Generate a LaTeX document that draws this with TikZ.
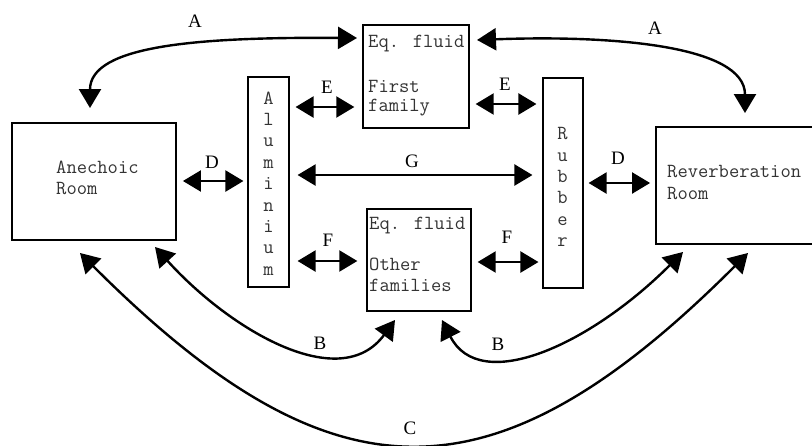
\documentclass[tikz,border=0pt]{standalone}
\usepackage{fontspec}
\newfontfamily\labelfont{Liberation Serif}
\usetikzlibrary{arrows.meta,calc}

\tikzset{
  box/.style={draw, rectangle, inner sep=0pt},
  room/.style={box, line width=1.8pt},
  fluidbox/.style={box, line width=1.3pt},
  slab/.style={box, line width=1.1pt},
  txt/.style={font=\ttfamily\fontsize{20}{21.4}\selectfont, text=black!80, inner sep=0pt},
  vtxt/.style={txt, align=center},
  lbl/.style={font=\labelfont\fontsize{19}{20}\selectfont, inner sep=0pt},
  dbl/.style={line width=2.2pt, {Triangle[length=18pt,width=21pt]}-{Triangle[length=18pt,width=21pt]}},
  link/.style={line width=2.4pt, {Triangle[length=19pt,width=22pt]}-{Triangle[length=19pt,width=22pt]}},
}

\begin{document}
\begin{tikzpicture}[x=1pt, y=-1pt]
\useasboundingbox (0,0) rectangle (812,445);
\clip (0,0) rectangle (812,445);

% boxes
\node[room, minimum width=164pt, minimum height=117pt] (anech) at (94,181.5) {};
\node[room, minimum width=175pt, minimum height=117pt] (reverb) at (743.5,185.5) {};
\node[slab, minimum width=41pt, minimum height=210pt] (alu) at (268.5,182) {};
\node[slab, minimum width=40pt, minimum height=210pt] (rub) at (563,183) {};
\node[fluidbox, minimum width=106pt, minimum height=103pt] (eqa) at (416,76.5) {};
\node[fluidbox, minimum width=104pt, minimum height=102pt] (eqb) at (419,260) {};

% box texts
\node[txt, anchor=mid west] (tAn1) at (56,171) {Anechoic};
\node[txt, anchor=mid west] (tAn2) at (56,192) {Room};
\node[txt, anchor=mid west] (tRv1) at (667,175) {Reverberation};
\node[txt, anchor=mid west] (tRv2) at (667,197) {Room};
\node[txt, anchor=mid west] (tEa1) at (368,45) {Eq. fluid};
\node[txt, anchor=mid west] (tEa2) at (368,90) {First};
\node[txt, anchor=mid west] (tEa3) at (368,109) {family};
\node[txt, anchor=mid west] (tEb1) at (369,227) {Eq. fluid};
\node[txt, anchor=mid west] (tEb2) at (369,268) {Other};
\node[txt, anchor=mid west] (tEb3) at (369,289) {families};
\node[vtxt] (tAlu) at (268.5,183.5) {A\\l\\u\\m\\i\\n\\i\\u\\m};
\node[vtxt] (tRub) at (562.5,187) {R\\u\\b\\b\\e\\r};

% end points of the connectors
\coordinate (aL1) at (357,38);
\coordinate (aL2) at (90,108);
\coordinate (aR1) at (477,40);
\coordinate (aR2) at (745,113);
\coordinate (bL1) at (155,247);
\coordinate (bL2) at (395,320);
\coordinate (bR1) at (442,320);
\coordinate (bR2) at (683,252);
\coordinate (c1) at (80,253);
\coordinate (c2) at (748,253);

% curved links
\draw[link] (aL2) .. controls (90,45) and (200,37) .. (aL1);
\draw[link] (aR1) .. controls (610,35) and (745,45) .. (aR2);
\draw[link] (bL1) .. controls (230,330) and (340,395) .. (bL2);
\draw[link] (bR1) .. controls (480,395) and (590,345) .. (bR2);
\draw[link] (c1) .. controls (334,507) and (494,507) .. (c2);

% straight links
\draw[dbl] ($(anech.east |- 0,181)+(6,0)$) -- ($(alu.west |- 0,181)+(-4,0)$);
\draw[dbl] ($(alu.east |- 0,107)+(6,0)$) -- ($(eqa.west |- 0,107)+(-8,0)$);
\draw[dbl] ($(eqa.east |- 0,104)+(6,0)$) -- ($(rub.west |- 0,104)+(-6,0)$);
\draw[dbl] ($(alu.east |- 0,175)+(8,0)$) -- ($(rub.west |- 0,175)+(-10,0)$);
\draw[dbl] ($(alu.east |- 0,261)+(8,0)$) -- ($(eqb.west |- 0,261)+(-9,0)$);
\draw[dbl] ($(eqb.east |- 0,262)+(6,0)$) -- ($(rub.west |- 0,262)+(-4,0)$);
\draw[dbl] ($(rub.east |- 0,183)+(5,0)$) -- ($(reverb.west |- 0,183)+(-5,0)$);

% labels
\node[lbl] (lA1) at (195,21) {A};
\node[lbl] (lA2) at (655,28) {A};
\node[lbl] (lE1) at (327,87) {E};
\node[lbl] (lE2) at (505,84) {E};
\node[lbl] (lD1) at (212,162) {D};
\node[lbl] (lD2) at (618,158) {D};
\node[lbl] (lG) at (412,161) {G};
\node[lbl] (lF1) at (328,240) {F};
\node[lbl] (lF2) at (507,237) {F};
\node[lbl] (lB1) at (320,343) {B};
\node[lbl] (lB2) at (498,344) {B};
\node[lbl] (lC) at (410,428) {C};
\end{tikzpicture}
\end{document}
